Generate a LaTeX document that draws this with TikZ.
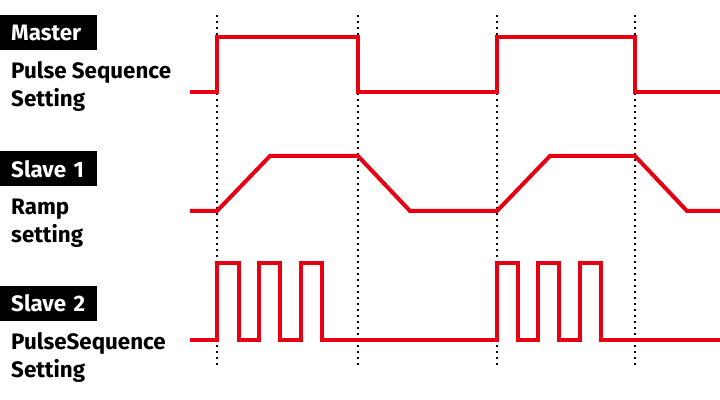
\documentclass[tikz,border=0pt]{standalone}
\usepackage{fontspec}
\setmainfont{Fira Sans}
\usetikzlibrary{positioning}
\definecolor{sigred}{HTML}{E60012}
\tikzset{
  tag/.style={fill=black,text=white,font=\bfseries\fontsize{19}{22}\selectfont,
              anchor=west,minimum height=29.75pt,text width=63.75pt,
              inner xsep=9.35pt,inner ysep=0pt,align=left},
  desc/.style={font=\bfseries\fontsize{19}{23.8}\selectfont,anchor=west,
               inner sep=0pt,align=left},
  sig/.style={draw=sigred,line width=3.4pt,line join=miter},
  tick/.style={draw=black,line width=1.7pt,dash pattern=on 1.7pt off 3.4pt},
  every picture/.style={line cap=butt}}
\begin{document}
\begin{tikzpicture}[x=0.85pt,y=-0.85pt]
  \useasboundingbox (0,0) rectangle (720,400);
  % time markers
  \foreach \t in {217,358,497,635}
    \draw[tick] (\t,15) -- (\t,365);
  % labels
  \node[tag] (mst) at (0,32.5){Master};
  \node[desc] (mstd) at (11,86){Pulse Sequence\\Setting};
  \node[tag] (sl1) at (0,169){Slave 1};
  \node[desc] (sl1d) at (11,223){Ramp\\setting};
  \node[tag] (sl2) at (0,303.5){Slave 2};
  \node[desc] (sl2d) at (11,357.5){PulseSequence\\Setting};
  % master: pulse sequence
  \draw[sig] (190,92) -- (217,92) -- (217,37) -- (358,37) -- (358,92)
    -- (497,92) -- (497,37) -- (635,37) -- (635,92) -- (720,92);
  % slave 1: ramp
  \draw[sig] (190,211) -- (217,211) -- (270,156) -- (358,156) -- (410,211)
    -- (497,211) -- (550,156) -- (635,156) -- (687,211) -- (720,211);
  % slave 2: pulse bursts
  \draw[sig] (190,340) -- (217,340)
    -- (217,263) -- (239,263) -- (239,340) -- (259,340)
    -- (259,263) -- (280,263) -- (280,340) -- (301,340)
    -- (301,263) -- (322,263) -- (322,340) -- (497,340)
    -- (497,263) -- (518,263) -- (518,340) -- (538,340)
    -- (538,263) -- (559,263) -- (559,340) -- (580,340)
    -- (580,263) -- (601,263) -- (601,340) -- (720,340);
\end{tikzpicture}
\end{document}
